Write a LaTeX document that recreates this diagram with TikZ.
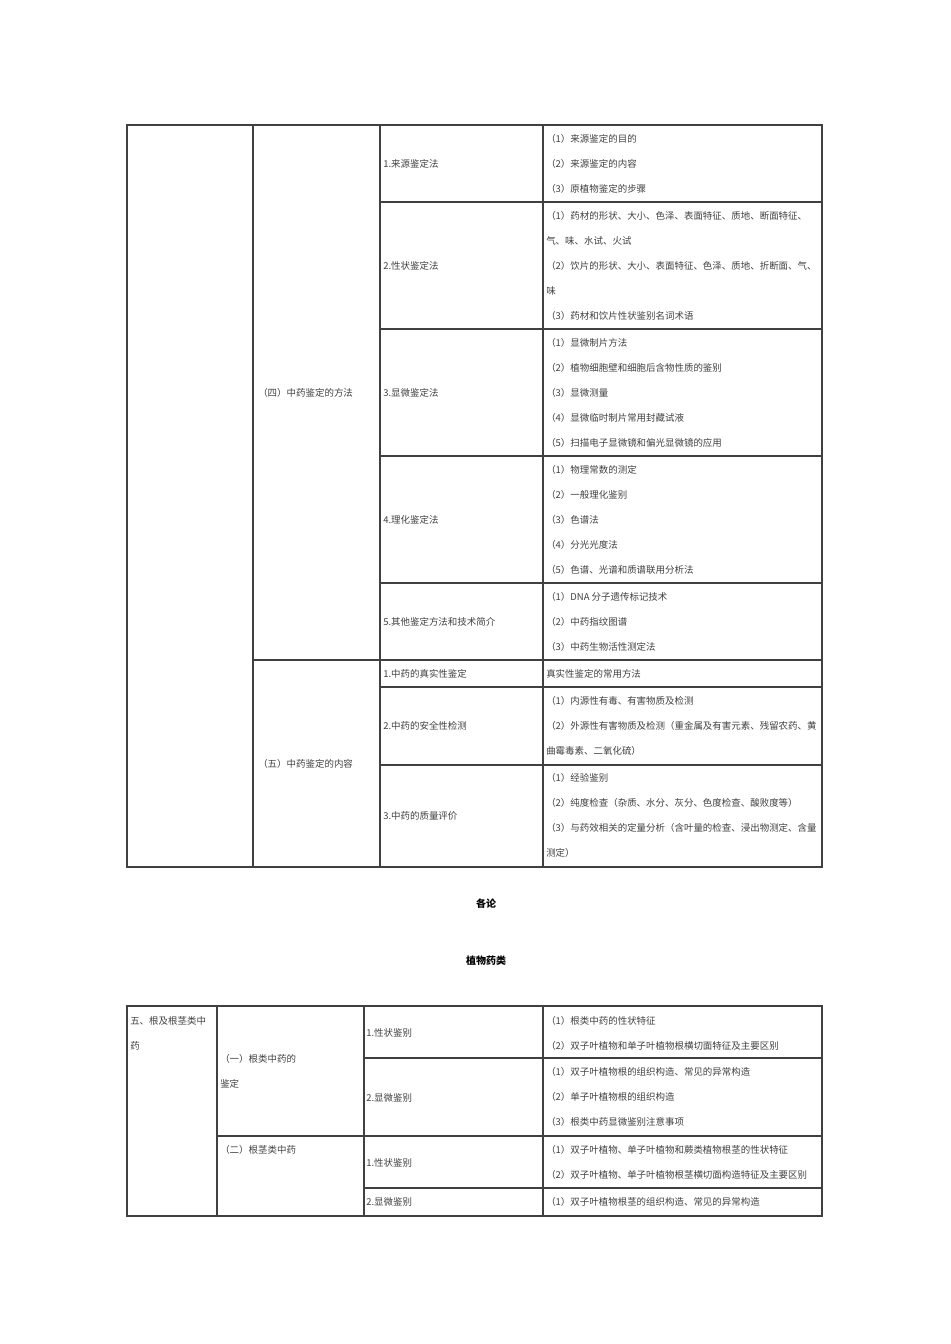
\documentclass[tikz,border=0pt]{standalone}
\usepackage{fontspec}
\setmainfont{Noto Sans CJK SC}
\begin{document}
\begin{tikzpicture}[x=0.75pt,y=-0.75pt,
  rule/.style={draw=black!75,line width=1.1pt},
  outer/.style={draw=black!75,line width=1.6pt},
  cell/.style={anchor=west,inner sep=0pt,text=black!75,font=\fontsize{7.1}{8}\selectfont},
  head/.style={inner sep=0pt,font=\fontsize{7.5}{9}\selectfont\bfseries}]
\useasboundingbox (0,0) rectangle (950,1344);
\newcommand\T[3]{\node[cell] at (#1,#2) {#3};}
% ---- table 1 ----
\draw[outer] (127,125) rectangle (822,867);
\foreach \x in {253,380,543} \draw[rule] (\x,125) -- (\x,867);
\foreach \y in {202,329,456,583,687,765} \draw[rule] (380,\y) -- (822,\y);
\draw[rule] (253,660) -- (822,660);
\T{546}{139}{（1）来源鉴定的目的}
\T{546}{164}{（2）来源鉴定的内容}
\T{546}{189}{（3）原植物鉴定的步骤}
\T{546}{216}{（1）药材的形状、大小、色泽、表面特征、质地、断面特征、}
\T{546}{241}{气、味、水试、火试}
\T{546}{266}{（2）饮片的形状、大小、表面特征、色泽、质地、折断面、气、}
\T{546}{291}{味}
\T{546}{316}{（3）药材和饮片性状鉴别名词术语}
\T{546}{343}{（1）显微制片方法}
\T{546}{368}{（2）植物细胞壁和细胞后含物性质的鉴别}
\T{546}{393}{（3）显微测量}
\T{546}{418}{（4）显微临时制片常用封藏试液}
\T{546}{443}{（5）扫描电子显微镜和偏光显微镜的应用}
\T{546}{470}{（1）物理常数的测定}
\T{546}{495}{（2）一般理化鉴别}
\T{546}{520}{（3）色谱法}
\T{546}{545}{（4）分光光度法}
\T{546}{570}{（5）色谱、光谱和质谱联用分析法}
\T{546}{597}{（1）DNA 分子遗传标记技术}
\T{546}{622}{（2）中药指纹图谱}
\T{546}{647}{（3）中药生物活性测定法}
\T{546}{674}{真实性鉴定的常用方法}
\T{546}{701}{（1）内源性有毒、有害物质及检测}
\T{546}{726}{（2）外源性有害物质及检测（重金属及有害元素、残留农药、黄}
\T{546}{751}{曲霉毒素、二氧化硫）}
\T{546}{778}{（1）经验鉴别}
\T{546}{803}{（2）纯度检查（杂质、水分、灰分、色度检查、酸败度等）}
\T{546}{828}{（3）与药效相关的定量分析（含叶量的检查、浸出物测定、含量}
\T{546}{853}{测定）}
\T{383}{164}{1.来源鉴定法}
\T{383}{266}{2.性状鉴定法}
\T{383}{393}{3.显微鉴定法}
\T{383}{520}{4.理化鉴定法}
\T{383}{622}{5.其他鉴定方法和技术简介}
\T{383}{674}{1.中药的真实性鉴定}
\T{383}{726}{2.中药的安全性检测}
\T{383}{816}{3.中药的质量评价}
\T{258}{393}{（四）中药鉴定的方法}
\T{258}{764}{（五）中药鉴定的内容}
\node[head] (h1) at (486,904) {各论};
\node[head] (h2) at (486,961) {植物药类};
% ---- table 2 ----
\draw[outer] (127,1006) rectangle (822,1216);
\foreach \x in {217,364,543} \draw[rule] (\x,1006) -- (\x,1216);
\foreach \y in {1058,1188} \draw[rule] (364,\y) -- (822,\y);
\draw[rule] (217,1136) -- (822,1136);
\T{130}{1021}{五、根及根茎类中}
\T{130}{1046}{药}
\T{220}{1059}{（一）根类中药的}
\T{220}{1084}{鉴定}
\T{220}{1150}{（二）根茎类中药}
\T{366}{1033}{1.性状鉴别}
\T{366}{1098}{2.显微鉴别}
\T{366}{1163}{1.性状鉴别}
\T{366}{1202}{2.显微鉴别}
\T{546}{1021}{（1）根类中药的性状特征}
\T{546}{1046}{（2）双子叶植物和单子叶植物根横切面特征及主要区别}
\T{546}{1072}{（1）双子叶植物根的组织构造、常见的异常构造}
\T{546}{1097}{（2）单子叶植物根的组织构造}
\T{546}{1122}{（3）根类中药显微鉴别注意事项}
\T{546}{1150}{（1）双子叶植物、单子叶植物和蕨类植物根茎的性状特征}
\T{546}{1175}{（2）双子叶植物、单子叶植物根茎横切面构造特征及主要区别}
\T{546}{1202}{（1）双子叶植物根茎的组织构造、常见的异常构造}
\end{tikzpicture}
\end{document}
